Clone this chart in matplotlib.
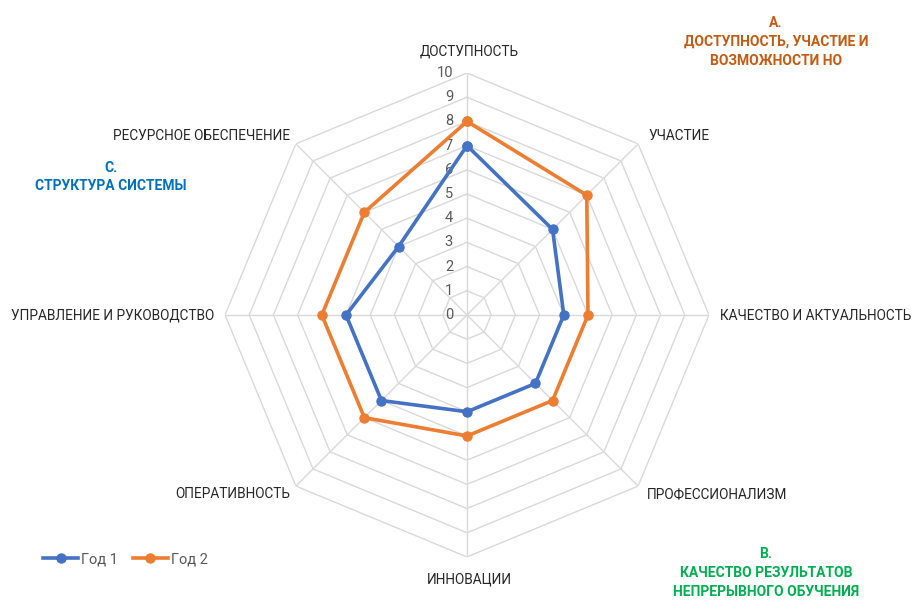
import numpy as np
import matplotlib.pyplot as plt
import matplotlib.transforms as mtrans

plt.rcParams['font.family'] = ['Roboto', 'DejaVu Sans']

# Categories and values
categories = ['ДОСТУПНОСТЬ', 'УЧАСТИЕ', 'КАЧЕСТВО И АКТУАЛЬНОСТЬ', 'ПРОФЕССИОНАЛИЗМ',
              'ИННОВАЦИИ', 'ОПЕРАТИВНОСТЬ', 'УПРАВЛЕНИЕ И РУКОВОДСТВО', 'РЕСУРСНОЕ ОБЕСПЕЧЕНИЕ']
year1 = [7, 5, 4, 4, 4, 5, 5, 4]
year2 = [8, 7, 5, 5, 5, 6, 6, 6]
series_names = ['Год 1', 'Год 2']
radial_ticks = list(range(0, 11))

n = len(categories)
theta = np.linspace(0, 2 * np.pi, n, endpoint=False)
theta_closed = np.append(theta, theta[0])

fig = plt.figure(figsize=(9.14, 6.03), dpi=100)
ax = fig.add_axes([0.2462, 0.0763, 0.5295, 0.8027], projection='polar')
ax.set_theta_zero_location('N')
ax.set_theta_direction(-1)
ax.set_ylim(0, 10)
ax.grid(False)
ax.spines['polar'].set_visible(False)
ax.set_xticks([])
ax.set_yticks([])
ax.patch.set_alpha(0)

grid_col = '#D9D9D9'
# polygon gridlines
for r in radial_ticks[1:]:
    ax.plot(theta_closed, [r] * (n + 1), color=grid_col, lw=1.0, zorder=1)
# spokes
for t in theta:
    ax.plot([t, t], [0, 10], color=grid_col, lw=1.0, zorder=1)

# radial tick labels
off = mtrans.offset_copy(ax.transData, fig=fig, x=-14, y=0, units='dots')
for r in radial_ticks:
    ax.text(0, r, str(r), transform=off, ha='right', va='center',
            fontsize=10.5, color='#595959')

colors = ['#4472C4', '#ED7D31']
for vals, name, c in zip([year1, year2], series_names, colors):
    v = np.append(vals, vals[0])
    ax.plot(theta_closed, v, color=c, lw=2.6, marker='o', ms=6.5, label=name, zorder=3)

# category labels (pixel positions from the reference)
W, H = 914, 603
label_pos = [
    (469, 51, 'center'), (648, 136, 'left'), (720, 316, 'left'), (647, 494, 'left'),
    (469, 579, 'center'), (290, 494, 'right'), (214, 316, 'right'), (290, 136, 'right'),
]
for lab, (x, y, ha) in zip(categories, label_pos):
    fig.text(x / W, 1 - y / H, lab, ha=ha, va='center', fontsize=9.8, color='#262626')

# group annotations
groups = [
    ('А.\nДОСТУПНОСТЬ, УЧАСТИЕ И\nВОЗМОЖНОСТИ НО', 776, 42, '#C55A11'),
    ('С.\nСТРУКТУРА СИСТЕМЫ', 111, 177, '#0070C0'),
    ('В.\nКАЧЕСТВО РЕЗУЛЬТАТОВ\nНЕПРЕРЫВНОГО ОБУЧЕНИЯ', 766, 573, '#00B050'),
]
for txt, x, y, c in groups:
    fig.text(x / W, 1 - y / H, txt, ha='center', va='center', fontsize=10,
             fontweight='bold', color=c, linespacing=1.45)

leg = fig.legend(loc='center left', bbox_to_anchor=(30 / W, 1 - 559 / H), ncol=2,
                 frameon=False, fontsize=10.5, handlelength=2.4, columnspacing=1.0,
                 handletextpad=0.2)
for t in leg.get_texts():
    t.set_color('#595959')

fig.savefig('out.png', dpi=100)
